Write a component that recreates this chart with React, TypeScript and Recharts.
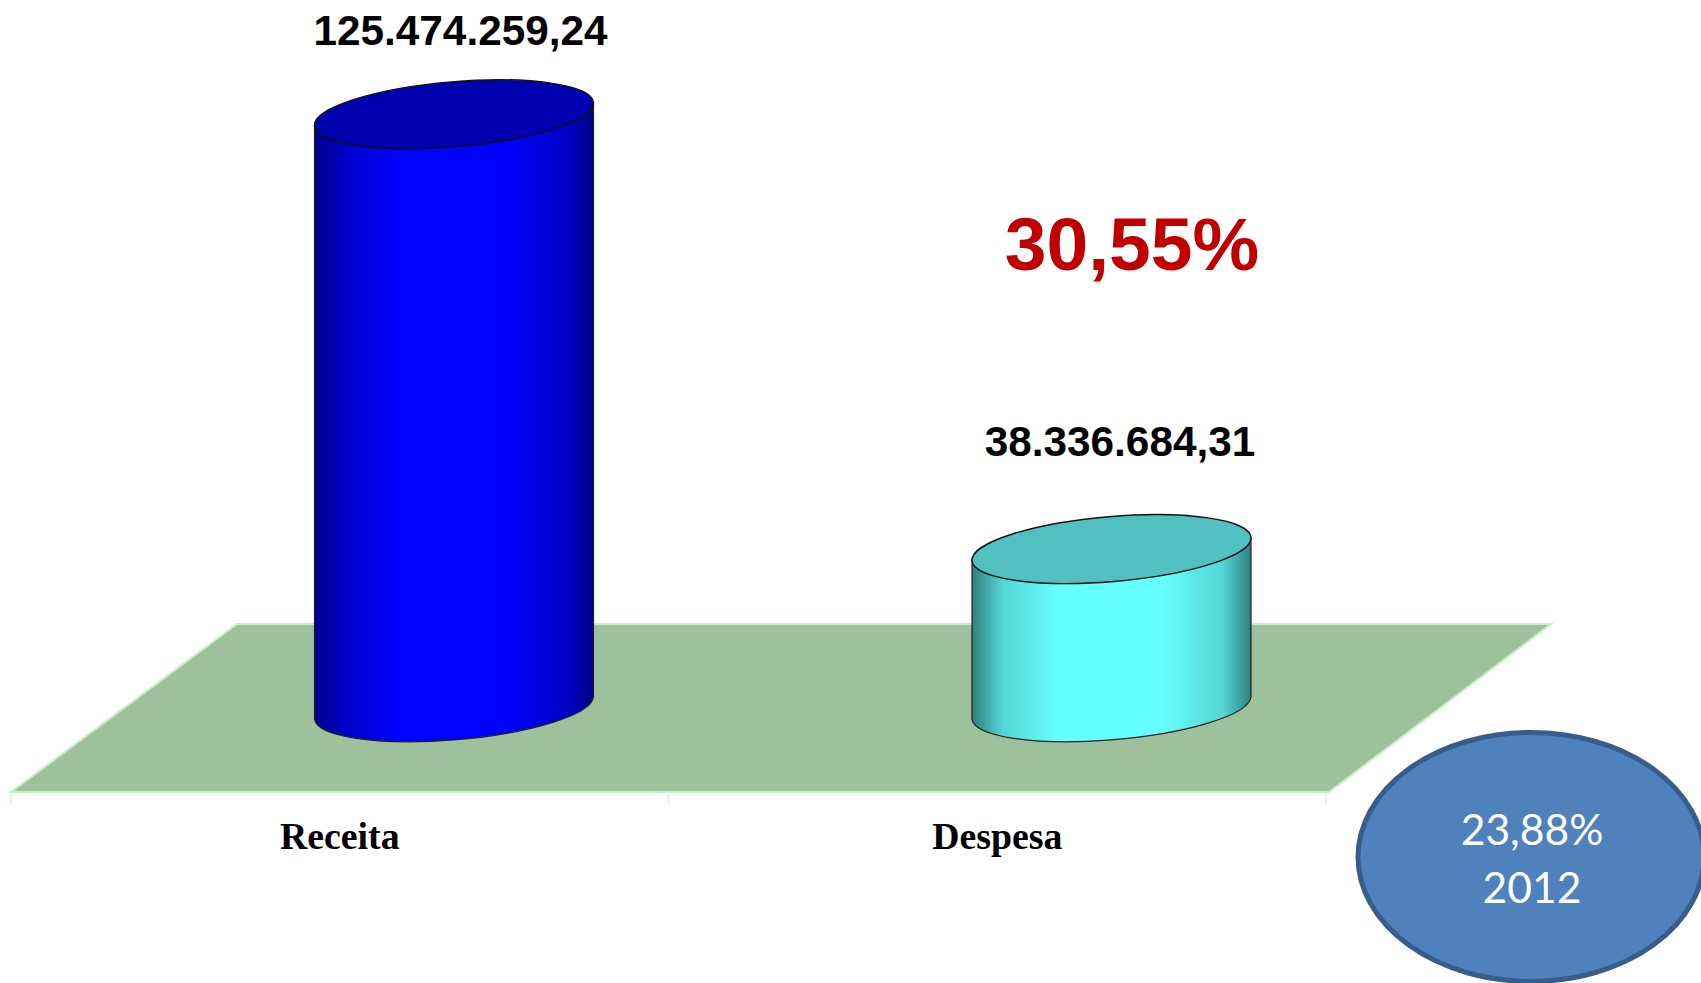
import { BarChart, Bar, XAxis, YAxis, LabelList, Customized } from 'recharts'

const categories = ['Receita', 'Despesa']
const values = [125474259.24, 38336684.31]
const valueLabels = ['125.474.259,24', '38.336.684,31']
const sideColors = ['#0000ff', '#66ffff']
const shadeColors = ['#0000c8', '#55d5d5']
const edgeColors = ['#00008a', '#2f7f7f']
const topColors = ['#0000b0', '#50c0c0']

const chartData = categories.map((name, i) => ({ name, value: values[i], label: valueLabels[i] }))

const WIDTH = 1701
const HEIGHT = 983
const LEFT = 11
const RIGHT = 1326
const TOP = 26
const FLOOR_Y = 792
const AXIS_HEIGHT = 70

// the floor's back edge, and how far the 3D look pushes the cylinders back
const DEPTH_X = 225
const DEPTH_Y = 168
const BAR_SHIFT_X = 114.5
const BAR_SHIFT_Y = 84
const TILT = -4.8

// label offsets from the top centre of the flat bar
const labelOffsets = [
  { dx: 121, dy: -153 },
  { dx: 123, dy: -177 },
]

const Cylinder = (props: any) => {
  const { x, y, width, height, index } = props
  const left = x + BAR_SHIFT_X
  const right = left + width
  const top = y - BAR_SHIFT_Y
  const bottom = y + height - BAR_SHIFT_Y
  const rx = width / 2 + 0.5
  const ry = width * 0.1165
  const lean = width * 0.0393
  const cx = left + width / 2
  const gradId = `cyl-${index}`
  const bodyPath = [
    `M${left},${top + lean}`,
    `L${left},${bottom + lean}`,
    `A${rx},${ry} ${TILT} 0 0 ${right},${bottom - lean}`,
    `L${right},${top - lean}`,
    `A${rx},${ry} ${TILT} 0 1 ${left},${top + lean}`,
    'Z',
  ].join(' ')
  return (
    <g>
      <defs>
        <linearGradient id={gradId} x1="0" y1="0" x2="1" y2="0">
          <stop offset="0%" stopColor={edgeColors[index]} />
          <stop offset="11%" stopColor={shadeColors[index]} />
          <stop offset="31%" stopColor={sideColors[index]} />
          <stop offset="68%" stopColor={sideColors[index]} />
          <stop offset="90%" stopColor={shadeColors[index]} />
          <stop offset="100%" stopColor={edgeColors[index]} />
        </linearGradient>
      </defs>
      <path d={bodyPath} fill={`url(#${gradId})`} stroke="#222222" strokeWidth={1.2} />
      <ellipse
        cx={cx}
        cy={top}
        rx={rx}
        ry={ry}
        fill={topColors[index]}
        stroke="#111111"
        strokeWidth={1.4}
        transform={`rotate(${TILT} ${cx} ${top})`}
      />
    </g>
  )
}

const ValueLabel = (props: any) => {
  const { x, y, width, index } = props
  const off = labelOffsets[index]
  return (
    <text
      x={x + width / 2 + off.dx}
      y={y + off.dy}
      textAnchor="middle"
      fontFamily="Liberation Sans"
      fontWeight={700}
      fontSize={42.3}
      fill="#000000"
    >
      {valueLabels[index]}
    </text>
  )
}

const Floor = () => {
  const mid = (LEFT + RIGHT) / 2
  return (
    <g>
      <polygon
        points={`${LEFT},${FLOOR_Y} ${LEFT + DEPTH_X + 1},${FLOOR_Y - DEPTH_Y} ${RIGHT + DEPTH_X},${FLOOR_Y - DEPTH_Y} ${RIGHT + 3},${FLOOR_Y}`}
        fill="#9dc29b"
        stroke="#c4f2c4"
        strokeWidth={2}
      />
      {[LEFT, mid, RIGHT].map((tx) => (
        <line key={tx} x1={tx} x2={tx} y1={FLOOR_Y} y2={FLOOR_Y + 11} stroke="#d5f5d5" strokeWidth={1.5} />
      ))}
    </g>
  )
}

const Notes = () => (
  <g>
    <text x={1132} y={270} textAnchor="middle" fontFamily="Liberation Sans" fontWeight={700} fontSize={75} fill="#c00000">
      30,55%
    </text>
    <ellipse cx={1531} cy={857} rx={173} ry={124.5} fill="#4f81bd" stroke="#385d8a" strokeWidth={5} />
    <text x={1532} y={845} textAnchor="middle" fontFamily="Lato" fontSize={42.6} fill="#ffffff">
      23,88%
    </text>
    <text x={1532} y={903} textAnchor="middle" fontFamily="Lato" fontSize={42.6} fill="#ffffff">
      2012
    </text>
  </g>
)

export default function App() {
  return (
    <div style={{ position: 'absolute', left: 0, top: 0, width: WIDTH, height: HEIGHT, overflow: 'hidden', background: '#ffffff' }}>
      <BarChart
        width={WIDTH}
        height={HEIGHT}
        data={chartData}
        margin={{ top: TOP, right: WIDTH - RIGHT, bottom: HEIGHT - FLOOR_Y - AXIS_HEIGHT, left: LEFT }}
        barSize={279}
      >
        <Customized component={Floor} />
        <XAxis
          dataKey="name"
          height={AXIS_HEIGHT}
          interval={0}
          axisLine={false}
          tickLine={false}
          tickMargin={24}
          tick={{ fill: '#000000', fontSize: 37.8, fontWeight: 700, fontFamily: 'Liberation Serif' }}
        />
        <YAxis hide domain={[6490000, 160000000]} />
        <Bar dataKey="value" shape={<Cylinder />} isAnimationActive={false}>
          <LabelList dataKey="label" content={<ValueLabel />} />
        </Bar>
        <Customized component={Notes} />
      </BarChart>
    </div>
  )
}
